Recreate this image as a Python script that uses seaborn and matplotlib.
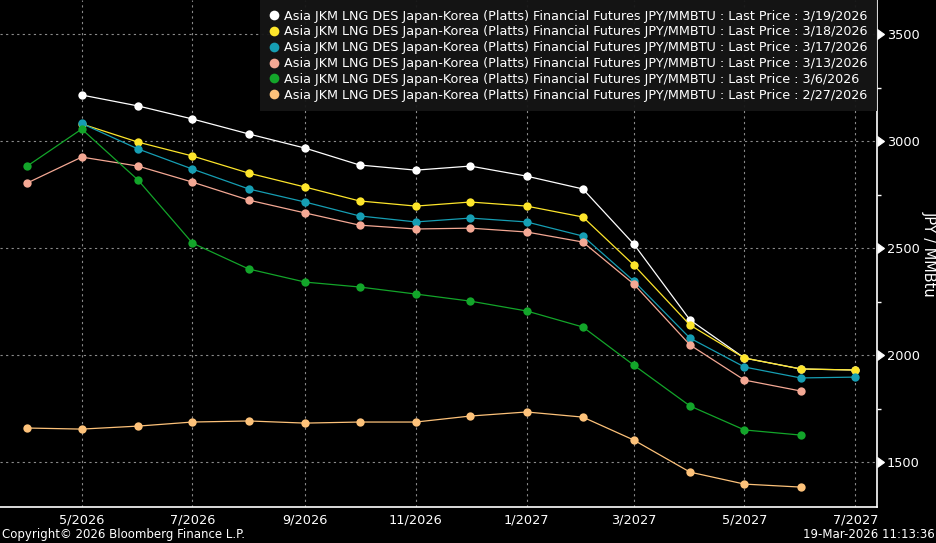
import numpy as np
import pandas as pd
import seaborn as sns
import matplotlib.pyplot as plt
import matplotlib.dates as mdates
from matplotlib.lines import Line2D
from matplotlib.ticker import MultipleLocator, FuncFormatter

months = pd.date_range("2026-04-01", "2027-07-01", freq="MS")

label_base = "Asia JKM LNG DES Japan-Korea (Platts) Financial Futures JPY/MMBTU : Last Price : "
series_dates = ["3/19/2026", "3/18/2026", "3/17/2026", "3/13/2026", "3/6/2026", "2/27/2026"]
series_colors = ["#ffffff", "#fde52b", "#169eb3", "#f4a894", "#13a52a", "#fdc27a"]

px_0319 = [np.nan, 3215, 3164, 3103, 3033, 2967, 2888, 2864, 2883, 2836, 2776, 2519, 2164, 1986, 1935, 1930]
px_0318 = [np.nan, 3080, 2995, 2930, 2850, 2785, 2720, 2696, 2715, 2696, 2645, 2421, 2140, 1986, 1935, 1930]
px_0317 = [np.nan, 3082, 2963, 2869, 2776, 2715, 2650, 2622, 2640, 2622, 2556, 2346, 2079, 1944, 1893, 1897]
px_0313 = [2804, 2925, 2883, 2808, 2724, 2664, 2607, 2589, 2593, 2575, 2528, 2332, 2047, 1883, 1832, np.nan]
px_0306 = [2883, 3056, 2818, 2523, 2402, 2341, 2318, 2285, 2252, 2206, 2131, 1953, 1762, 1650, 1626, np.nan]
px_0227 = [1659, 1654, 1668, 1687, 1692, 1682, 1687, 1687, 1715, 1734, 1710, 1603, 1453, 1397, 1383, np.nan]

all_series = [px_0319, px_0318, px_0317, px_0313, px_0306, px_0227]
labels = [label_base + d for d in series_dates]

frames = []
for lab, vals in zip(labels, all_series):
    frames.append(pd.DataFrame({"month": months, "price": vals, "series": lab}))
df = pd.concat(frames).dropna()

sns.set_style("dark")
plt.rcParams["font.family"] = ["Liberation Sans Narrow", "DejaVu Sans"]

fig = plt.figure(figsize=(9.37, 5.43), dpi=100, facecolor="black")
ax = fig.add_axes([0.0, 0.0663, 0.936, 0.9337])
ax.set_facecolor("black")

sns.lineplot(data=df, x="month", y="price", hue="series", hue_order=labels,
             palette=series_colors, marker="o", markersize=6, markeredgewidth=0,
             linewidth=0.9, legend=False, ax=ax)

ax.set_xlim(pd.Timestamp("2026-03-17"), pd.Timestamp("2027-07-13"))
ax.set_ylim(1290, 3659)

ax.xaxis.set_major_locator(mdates.MonthLocator(bymonth=[1, 3, 5, 7, 9, 11]))
ax.xaxis.set_major_formatter(FuncFormatter(lambda v, p: f"{mdates.num2date(v).month}/{mdates.num2date(v).year}"))
ax.yaxis.tick_right()
ax.yaxis.set_label_position("right")
ax.yaxis.set_major_locator(MultipleLocator(500))
ax.yaxis.set_minor_locator(MultipleLocator(250))

ax.tick_params(axis="x", colors="white", labelsize=9.3, length=0, pad=5)
ax.tick_params(axis="y", which="major", colors="white", labelsize=9.3, length=6, pad=1, direction="out")
ax.tick_params(axis="y", which="minor", colors="white", length=3, width=1, direction="out")
for t in ax.yaxis.get_major_ticks():
    t.tick2line.set_marker(9)
    t.tick2line.set_markersize(7)

ax.grid(True, which="major", color="#8a8a8a", linestyle=(0, (2, 3)), linewidth=0.8)
ax.set_xlabel("")
ax.set_ylabel("JPY / MMBtu", color="white", fontsize=10.5, rotation=-90, ha="center", va="center")
ax.yaxis.set_label_coords(1.059, 0.5)

for s in ["left", "top"]:
    ax.spines[s].set_visible(False)
for s in ["bottom", "right"]:
    ax.spines[s].set_color("white")
    ax.spines[s].set_linewidth(1.2)

handles = [Line2D([], [], marker="o", linestyle="none", markersize=7, markeredgewidth=0,
                  color=c) for c in series_colors]
leg = ax.legend(handles, labels, loc="upper right", fontsize=9.2, frameon=True,
                facecolor="#161616", edgecolor="none", framealpha=0.95, fancybox=False,
                borderaxespad=0.0, handlelength=0.7, handletextpad=0.45, labelspacing=0.22,
                borderpad=0.75)
for txt in leg.get_texts():
    txt.set_color("white")

fig.text(0.002, 0.004, "Copyright\u00a9 2026 Bloomberg Finance L.P.", color="white", fontsize=8.5, ha="left", va="bottom")
fig.text(0.998, 0.004, "19-Mar-2026 11:13:36", color="white", fontsize=8.5, ha="right", va="bottom")

fig.savefig("out.png", dpi=100, facecolor="black")
